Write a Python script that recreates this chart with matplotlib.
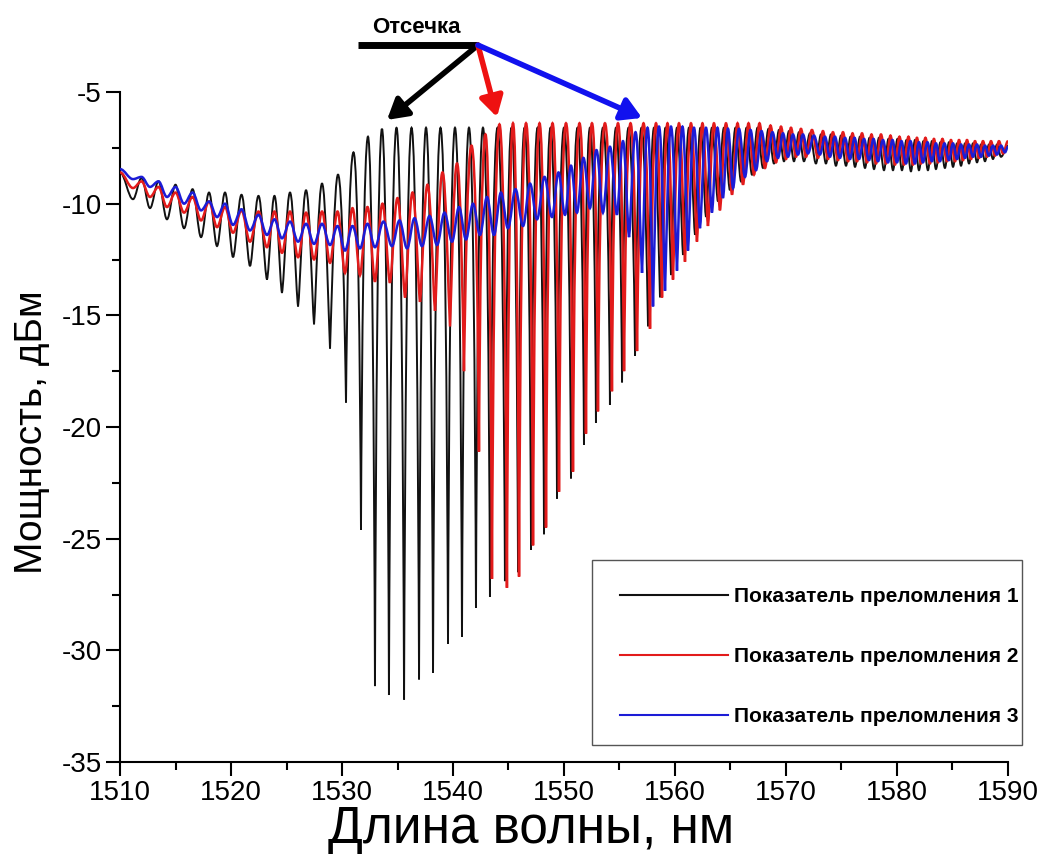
import matplotlib
matplotlib.use("Agg")
import matplotlib.pyplot as plt
from matplotlib.path import Path
from matplotlib.patches import PathPatch, Rectangle
from matplotlib.lines import Line2D
from matplotlib import ticker

plt.rcParams['font.family'] = ['Liberation Sans', 'DejaVu Sans']
plt.rcParams['axes.unicode_minus'] = False

wl_min, wl_max = 1510, 1590

# fringe minima: wavelength (nm) and depth (dBm); tops = level of each maximum
# (first one at 1510, last one at 1590, the others halfway between minima)
black_dips_nm = [1511.17, 1512.70, 1514.23, 1515.77, 1517.30, 1518.74, 1520.18, 1521.71, 1523.24, 1524.59,
                 1526.04, 1527.48, 1528.92, 1530.36, 1531.71, 1532.97, 1534.23, 1535.59, 1536.94, 1538.20,
                 1539.55, 1540.81, 1542.07, 1543.33, 1544.68, 1545.86, 1547.03, 1548.20, 1549.37, 1550.63,
                 1551.80, 1552.88, 1554.14, 1555.23, 1556.40, 1557.57, 1558.65, 1559.64, 1560.72, 1561.80,
                 1562.79, 1563.87, 1564.95, 1565.95, 1566.94, 1567.93, 1568.92, 1569.82, 1570.72, 1571.62,
                 1572.70, 1573.60, 1574.50, 1575.41, 1576.22, 1577.12, 1577.93, 1578.83, 1579.64, 1580.45,
                 1581.26, 1581.98, 1582.79, 1583.51, 1584.32, 1585.05, 1585.77, 1586.49, 1587.21, 1587.93,
                 1588.65, 1589.37]
black_dips_db = [-9.8, -10.2, -10.7, -11.1, -11.5, -11.9, -12.4, -12.8, -13.4, -14.0,
                 -14.6, -15.4, -16.5, -18.9, -24.6, -31.6, -32.0, -32.2, -31.3, -31.0,
                 -29.7, -29.4, -28.1, -27.6, -26.9, -26.5, -25.5, -24.8, -23.2, -22.3,
                 -20.8, -19.8, -19.0, -18.0, -16.8, -15.5, -14.2, -13.2, -12.3, -11.4,
                 -10.6, -9.9, -9.4, -9.0, -8.7, -8.4, -8.2, -8.1, -8.1, -8.1,
                 -8.2, -8.2, -8.3, -8.3, -8.35, -8.4, -8.45, -8.5, -8.5, -8.5,
                 -8.55, -8.5, -8.5, -8.45, -8.4, -8.35, -8.3, -8.2, -8.15, -8.1,
                 -8.0, -7.9]
black_tops_db = [-8.6, -8.85, -9.0, -9.15, -9.35, -9.5, -9.5, -9.6, -9.65, -9.65,
                 -9.5, -9.4, -9.1, -8.7, -7.7, -7.0, -6.65, -6.6, -6.6, -6.6,
                 -6.6, -6.6, -6.6, -6.6, -6.6, -6.6, -6.6, -6.6, -6.6, -6.6,
                 -6.6, -6.6, -6.6, -6.6, -6.6, -6.6, -6.6, -6.6, -6.6, -6.6,
                 -6.6, -6.6, -6.6, -6.6, -6.6, -6.6, -6.65, -6.7, -6.75, -6.8,
                 -6.85, -6.9, -6.9, -6.95, -7.0, -7.0, -7.05, -7.05, -7.1, -7.1,
                 -7.15, -7.15, -7.2, -7.2, -7.25, -7.25, -7.3, -7.3, -7.3, -7.35,
                 -7.35, -7.35, -7.4]

red_dips_nm = [1511.17, 1512.70, 1514.23, 1515.77, 1517.30, 1518.74, 1520.18, 1521.71, 1523.24, 1524.59,
               1526.04, 1527.48, 1528.92, 1530.27, 1531.62, 1532.97, 1534.32, 1535.68, 1537.03, 1538.38,
               1539.73, 1540.99, 1542.34, 1543.51, 1544.86, 1545.95, 1547.21, 1548.38, 1549.55, 1550.81,
               1551.98, 1553.06, 1554.32, 1555.41, 1556.58, 1557.75, 1558.83, 1559.82, 1560.90, 1561.98,
               1562.97, 1564.05, 1565.14, 1566.13, 1567.12, 1568.11, 1569.10, 1570.00, 1570.90, 1571.80,
               1572.88, 1573.78, 1574.68, 1575.59, 1576.40, 1577.30, 1578.11, 1579.01, 1579.82, 1580.63,
               1581.44, 1582.16, 1582.97, 1583.69, 1584.50, 1585.23, 1585.95, 1586.67, 1587.39, 1588.11,
               1588.83, 1589.55]
red_dips_db = [-9.3, -9.7, -10.15, -10.4, -10.75, -11.05, -11.3, -11.7, -11.95, -12.2,
               -12.4, -12.5, -12.65, -13.1, -13.2, -13.5, -13.55, -14.2, -14.4, -14.8,
               -15.5, -17.5, -21.1, -26.8, -27.2, -26.7, -25.3, -24.5, -22.9, -22.0,
               -20.3, -19.3, -18.4, -17.5, -16.6, -15.6, -14.2, -13.4, -12.6, -11.7,
               -11.0, -10.3, -9.6, -9.15, -8.7, -8.4, -8.15, -8.0, -7.9, -7.9,
               -7.95, -8.0, -8.05, -8.1, -8.1, -8.15, -8.2, -8.2, -8.25, -8.25,
               -8.25, -8.2, -8.2, -8.15, -8.1, -8.1, -8.05, -8.0, -7.95, -7.9,
               -7.85, -7.75]
red_tops_db = [-8.6, -9.0, -9.25, -9.5, -9.7, -9.9, -10.15, -10.3, -10.35, -10.35,
               -10.35, -10.4, -10.35, -10.35, -10.2, -10.15, -10.0, -9.75, -9.5, -9.15,
               -8.6, -8.2, -7.4, -6.9, -6.45, -6.4, -6.4, -6.4, -6.4, -6.4,
               -6.4, -6.4, -6.4, -6.4, -6.4, -6.4, -6.4, -6.4, -6.4, -6.4,
               -6.4, -6.4, -6.4, -6.4, -6.4, -6.4, -6.5, -6.55, -6.6, -6.65,
               -6.7, -6.75, -6.8, -6.8, -6.85, -6.85, -6.9, -6.9, -6.95, -7.0,
               -7.0, -7.05, -7.05, -7.1, -7.1, -7.15, -7.15, -7.15, -7.2, -7.2,
               -7.2, -7.2, -7.2]

blue_dips_nm = [1511.17, 1512.70, 1514.23, 1515.77, 1517.30, 1518.74, 1520.18, 1521.71, 1523.24, 1524.59,
                1526.04, 1527.48, 1528.92, 1530.27, 1531.62, 1532.97, 1534.50, 1535.86, 1537.21, 1538.56,
                1539.91, 1541.17, 1542.43, 1543.69, 1544.95, 1546.31, 1547.57, 1548.92, 1550.09, 1551.17,
                1552.34, 1553.51, 1554.77, 1555.86, 1557.03, 1558.02, 1559.10, 1560.18, 1561.17, 1562.25,
                1563.33, 1564.32, 1565.23, 1566.31, 1567.30, 1568.29, 1569.28, 1570.18, 1571.08, 1571.98,
                1573.06, 1573.96, 1574.86, 1575.77, 1576.58, 1577.48, 1578.29, 1579.19, 1580.00, 1580.81,
                1581.62, 1582.34, 1583.15, 1583.87, 1584.68, 1585.41, 1586.13, 1586.85, 1587.57, 1588.29,
                1589.01, 1589.73]
blue_dips_db = [-8.9, -9.25, -9.7, -10.0, -10.3, -10.6, -10.95, -11.2, -11.4, -11.55,
                -11.7, -11.8, -11.85, -12.1, -12.0, -11.95, -11.9, -12.0, -11.9, -11.85,
                -11.7, -11.6, -11.4, -11.4, -11.1, -11.0, -10.7, -10.6, -10.5, -10.4,
                -10.2, -10.4, -10.5, -11.5, -13.1, -14.6, -13.9, -13.0, -12.1, -11.1,
                -10.4, -9.75, -9.3, -8.8, -8.5, -8.1, -7.95, -7.9, -7.8, -7.75,
                -7.8, -7.9, -7.95, -8.0, -8.0, -8.05, -8.1, -8.15, -8.15, -8.2,
                -8.2, -8.15, -8.1, -8.1, -8.05, -8.0, -7.95, -7.9, -7.9, -7.85,
                -7.8, -7.7]
blue_tops_db = [-8.45, -8.8, -9.0, -9.25, -9.5, -9.9, -10.0, -10.25, -10.5, -10.7,
                -10.8, -10.9, -10.9, -11.0, -11.0, -10.9, -10.8, -10.75, -10.65, -10.55,
                -10.4, -10.15, -10.0, -9.7, -9.5, -9.35, -9.1, -8.8, -8.6, -8.3,
                -7.95, -7.6, -7.45, -7.2, -6.8, -6.6, -6.55, -6.55, -6.55, -6.6,
                -6.6, -6.6, -6.65, -6.65, -6.7, -6.75, -6.8, -6.85, -6.9, -6.9,
                -6.95, -7.0, -7.0, -7.05, -7.05, -7.1, -7.1, -7.15, -7.15, -7.2,
                -7.2, -7.25, -7.25, -7.3, -7.3, -7.3, -7.35, -7.35, -7.35, -7.4,
                -7.4, -7.4, -7.45]

labels = ['Показатель преломления 1', 'Показатель преломления 2', 'Показатель преломления 3']
colors = ['#111111', '#e21b1b', '#1c1cd6']


def half_fringe(x0, y0, x1, y1, top_first):
    """Bezier controls between a maximum and a minimum.
    Shallow fringes come out sine-like, deep ones get a narrow, sharp dip."""
    s = min(1.0, max(0.0, (abs(y0 - y1) - 2.0) / 10.0))
    h = x1 - x0
    top_c = 0.36 + 0.19 * s
    dip_c = 0.36 - 0.24 * s
    if top_first:   # max (x0,y0) -> min (x1,y1)
        return [(x0 + top_c * h, y0), (x1 - dip_c * h, y1 + 0.45 * s * (y0 - y1)), (x1, y1)]
    # min (x0,y0) -> max (x1,y1)
    return [(x0 + dip_c * h, y0 + 0.45 * s * (y1 - y0)), (x1 - top_c * h, y1), (x1, y1)]


def fringe_path(dips_nm, dips_db, tops_db):
    n = len(dips_nm)
    tops_nm = [wl_min] + [(dips_nm[i] + dips_nm[i + 1]) / 2 for i in range(n - 1)] + [wl_max]
    verts = [(tops_nm[0], tops_db[0])]
    codes = [Path.MOVETO]
    for i in range(n):
        verts += half_fringe(tops_nm[i], tops_db[i], dips_nm[i], dips_db[i], True)
        verts += half_fringe(dips_nm[i], dips_db[i], tops_nm[i + 1], tops_db[i + 1], False)
        codes += [Path.CURVE4] * 6
    return Path(verts, codes)


fig = plt.figure(figsize=(10.4, 8.56), dpi=100)
ax = fig.add_axes([0.1154, 0.1098, 0.8538, 0.7827])

series = [(black_dips_nm, black_dips_db, black_tops_db, 1.4),
          (red_dips_nm, red_dips_db, red_tops_db, 1.8),
          (blue_dips_nm, blue_dips_db, blue_tops_db, 1.8)]
for k, (nm, db, tops, lw) in enumerate(series):
    ax.add_patch(PathPatch(fringe_path(nm, db, tops), fill=False,
                           edgecolor=colors[k], lw=lw, zorder=2 + k))

ax.set_xlim(wl_min, wl_max)
ax.set_ylim(-35, -5)
ax.xaxis.set_major_locator(ticker.MultipleLocator(10))
ax.xaxis.set_minor_locator(ticker.MultipleLocator(5))
ax.yaxis.set_major_locator(ticker.MultipleLocator(5))
ax.yaxis.set_minor_locator(ticker.MultipleLocator(2.5))
ax.spines['right'].set_visible(False)
ax.spines['top'].set_visible(False)
for s in ['left', 'bottom']:
    ax.spines[s].set_linewidth(1.5)
ax.tick_params(which='major', direction='out', length=10, width=1.5, labelsize=20, pad=3)
ax.tick_params(which='minor', direction='out', length=6, width=1.5)

ax.set_xlabel('Длина волны, нм', fontsize=37)
ax.xaxis.set_label_coords(0.463, -0.064)
ax.set_ylabel('Мощность, дБм', fontsize=28)
ax.yaxis.set_label_coords(-0.079, 0.4925)

# legend frame drawn separately: text sits close to its right edge
frame = Rectangle((592 / 1040, 1 - 745 / 856), 430 / 1040, 185 / 856,
                  transform=fig.transFigure, facecolor='white',
                  edgecolor='#555555', lw=1.0, zorder=8, clip_on=False)
ax.add_patch(frame)
handles = [Line2D([], [], color=c, lw=1.5) for c in colors]
leg = ax.legend(handles, labels, loc='upper left',
                bbox_to_anchor=(620 / 1040, 1 - 587 / 856), bbox_transform=fig.transFigure,
                prop=dict(family='Liberation Sans', weight='bold', size=15),
                handlelength=5.2, handletextpad=0.25, labelspacing=1.97,
                borderpad=0, borderaxespad=0, frameon=False)
leg.set_zorder(9)

# "cut-off" pointer
base = (1542.25, -2.90)
ax.plot([1531.44, base[0]], [base[1], base[1]], color='black', lw=5,
        solid_capstyle='butt', clip_on=False, zorder=10)
for tip, c in [((1534.05, -6.25), 'black'), ((1543.96, -6.12), '#ee1111'), ((1557.03, -6.16), '#1111ee')]:
    ax.annotate('', xy=tip, xytext=base, annotation_clip=False, zorder=10,
                arrowprops=dict(arrowstyle='-|>,head_length=0.6,head_width=0.35', color=c,
                                lw=4, shrinkA=0, shrinkB=0, mutation_scale=20))
ax.text(1536.67, -2.09, 'Отсечка', ha='center', va='center', fontsize=16,
        fontweight='bold', clip_on=False)

fig.savefig('out.png', dpi=100, facecolor='white')
